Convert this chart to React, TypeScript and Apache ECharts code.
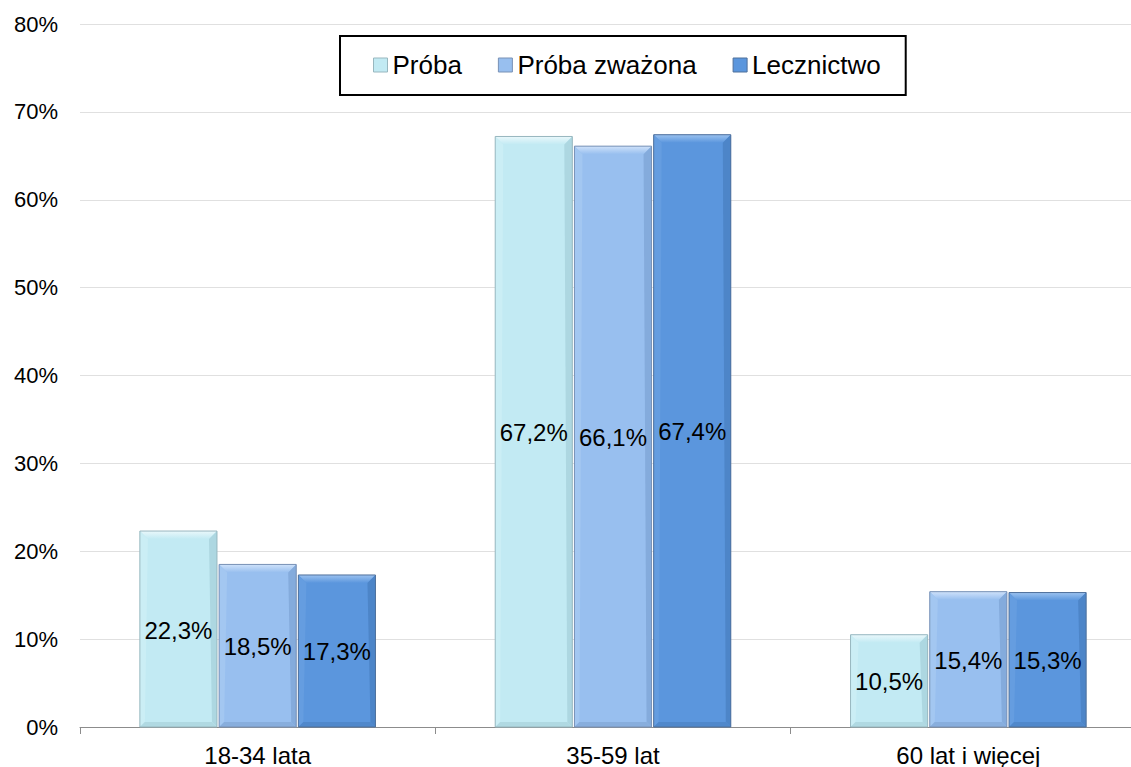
import React, { useEffect, useRef } from "react";
import * as echarts from "echarts";

const categories = ["18-34 lata", "35-59 lat", "60 lat i więcej"];
const seriesNames = ["Próba", "Próba zważona", "Lecznictwo"];
const proba = [22.3, 67.2, 10.5];
const probaWazona = [18.5, 66.1, 15.4];
const lecznictwo = [17.3, 67.4, 15.3];
const yTicks = [0, 10, 20, 30, 40, 50, 60, 70, 80];

const palettes = [
  { base: "#C2EAF3", top: "#EAF8FB", left: "#CBEEF5", right: "#ADD7E1", bottom: "#B0D9E2", stroke: "#98B7BF" },
  { base: "#98BFEF", top: "#CFE2FA", left: "#A3C7F1", right: "#84ABDC", bottom: "#88AEDD", stroke: "#7891B5" },
  { base: "#5B96DD", top: "#9BC2F0", left: "#659DE0", right: "#4D85C8", bottom: "#5088CB", stroke: "#4F709B" },
];

const FONT = "'Liberation Sans', Arial, sans-serif";

function makeSeries(name: string, values: number[], k: number) {
  const pal = palettes[k];
  return {
    type: "custom",
    name,
    itemStyle: { color: pal.base },
    encode: { x: 0, y: 1 },
    data: values.map((v, i) => [i, v]),
    renderItem: (params: any, api: any) => {
      const cat = api.value(0);
      const v = api.value(1);
      const base = api.coord([cat, 0]);
      const top = api.coord([cat, v]);
      const band = api.size([1, 0])[0];
      const bw = band * 0.217;
      const gap = band * 0.006;
      const x = base[0] + (k - 1) * (bw + gap) - bw / 2;
      const y = top[1];
      const h = base[1] - top[1];
      const b = 8;
      const bb = 5;
      return {
        type: "group",
        children: [
          { type: "rect", shape: { x, y, width: bw, height: h }, style: { fill: pal.base } },
          {
            type: "polygon",
            shape: { points: [[x, y], [x + bw, y], [x + bw - b, y + b], [x + b, y + b]] },
            style: {
              fill: new echarts.graphic.LinearGradient(0, 0, 0, 1, [
                { offset: 0, color: pal.top },
                { offset: 1, color: pal.base },
              ]),
            },
          },
          { type: "polygon", shape: { points: [[x, y], [x + b, y + b], [x + bb, y + h - bb], [x, y + h]] }, style: { fill: pal.left } },
          { type: "polygon", shape: { points: [[x + bw, y], [x + bw, y + h], [x + bw - bb, y + h - bb], [x + bw - b, y + b]] }, style: { fill: pal.right } },
          { type: "polygon", shape: { points: [[x, y + h], [x + bb, y + h - bb], [x + bw - bb, y + h - bb], [x + bw, y + h]] }, style: { fill: pal.bottom } },
          { type: "rect", shape: { x, y, width: bw, height: h }, style: { fill: "none", stroke: pal.stroke, lineWidth: 1 } },
          {
            type: "text",
            style: {
              text: v.toFixed(1).replace(".", ",") + "%",
              x: x + bw / 2,
              y: y + h / 2 + 1,
              align: "center",
              verticalAlign: "middle",
              fontSize: 24,
              fontFamily: FONT,
              fill: "#000",
            },
          },
        ],
      };
    },
  };
}

export default function App() {
  const ref = useRef<HTMLDivElement>(null);
  useEffect(() => {
    document.body.style.margin = "0";
    const chart = echarts.init(ref.current!, null, { renderer: "svg" });
    chart.setOption({
      animation: false,
      backgroundColor: "#fff",
      textStyle: { fontFamily: FONT },
      grid: { left: 80, top: 24, bottom: 40, width: 1066, containLabel: false, outerBoundsMode: "none" },
      legend: {
        data: seriesNames.map((n, k) => ({ name: n, icon: "rect", itemStyle: { color: palettes[k].base, borderColor: palettes[k].stroke, borderWidth: 1 } })),
        left: 340,
        top: 36,
        borderColor: "#000",
        borderWidth: 2,
        padding: [16, 25, 17, 33],
        itemGap: 36,
        itemWidth: 14,
        itemHeight: 14,
        textStyle: { fontSize: 26, color: "#000", fontFamily: FONT },
      },
      xAxis: {
        type: "category",
        data: categories,
        axisLine: { lineStyle: { color: "#8c8c8c" } },
        axisTick: { show: true, length: 7, lineStyle: { color: "#8c8c8c" } },
        axisLabel: { fontSize: 24, color: "#000", margin: 16, fontFamily: FONT },
      },
      yAxis: {
        type: "value",
        min: yTicks[0],
        max: yTicks[yTicks.length - 1],
        interval: 10,
        axisLine: { show: false },
        axisTick: { show: false },
        splitLine: { lineStyle: { color: "#e0e0e0" } },
        axisLabel: { formatter: "{value}%", fontSize: 22, color: "#000", margin: 22, fontFamily: FONT },
      },
      series: [
        makeSeries(seriesNames[0], proba, 0),
        makeSeries(seriesNames[1], probaWazona, 1),
        makeSeries(seriesNames[2], lecznictwo, 2),
      ],
    });
    return () => chart.dispose();
  }, []);
  return <div ref={ref} style={{ position: "fixed", left: 0, top: 0, width: 1131, height: 767 }} />;
}
